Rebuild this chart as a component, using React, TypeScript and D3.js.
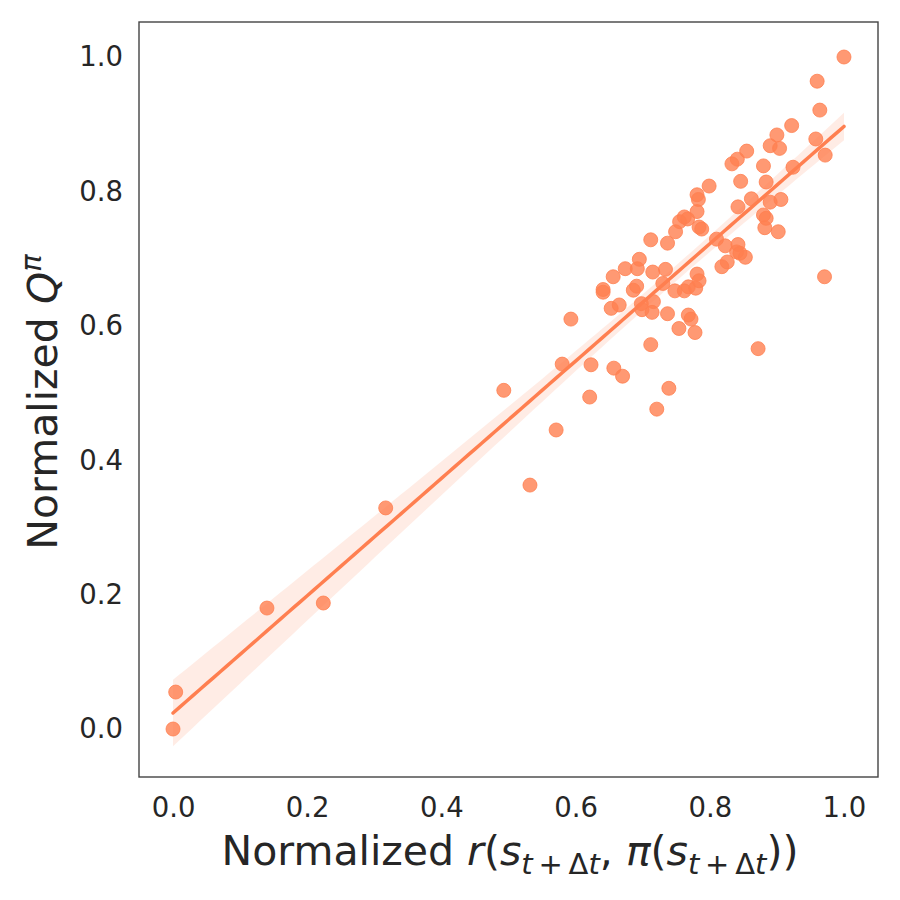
import { useEffect, useRef } from "react";
import * as d3 from "d3";

// normalized reward (x) and normalized Q (y)
const rewardValues = [
  0.0, 0.004, 0.14, 0.224, 0.317, 0.493, 0.532, 0.571, 0.58, 0.593, 0.621, 0.623,
  0.641, 0.641, 0.653, 0.656, 0.657, 0.665, 0.67, 0.674, 0.686, 0.691, 0.692, 0.695,
  0.698, 0.699, 0.712, 0.712, 0.714, 0.715, 0.716, 0.721, 0.73, 0.734, 0.737, 0.737,
  0.739, 0.748, 0.749, 0.754, 0.755, 0.762, 0.762, 0.767, 0.768, 0.768, 0.772, 0.778,
  0.779, 0.781, 0.781, 0.781, 0.783, 0.784, 0.784, 0.788, 0.799, 0.81, 0.818, 0.823,
  0.826, 0.833, 0.84, 0.841, 0.842, 0.842, 0.845, 0.846, 0.853, 0.855, 0.862, 0.872,
  0.88, 0.88, 0.882, 0.884, 0.884, 0.89, 0.89, 0.9, 0.902, 0.904, 0.906, 0.922, 0.924,
  0.958, 0.96, 0.964, 0.971, 0.972, 1.0,
];
const qValues = [
  0.0, 0.055, 0.18, 0.1875, 0.329, 0.504, 0.363, 0.445, 0.543, 0.61, 0.494, 0.542,
  0.654, 0.65, 0.626, 0.673, 0.537, 0.631, 0.525, 0.685, 0.653, 0.659, 0.685, 0.699,
  0.633, 0.624, 0.728, 0.572, 0.62, 0.68, 0.636, 0.476, 0.663, 0.684, 0.723, 0.618,
  0.507, 0.652, 0.74, 0.596, 0.755, 0.762, 0.652, 0.759, 0.658, 0.616, 0.61, 0.59,
  0.656, 0.795, 0.77, 0.677, 0.788, 0.747, 0.667, 0.744, 0.808, 0.729, 0.688, 0.719,
  0.695, 0.841, 0.71, 0.848, 0.721, 0.777, 0.708, 0.815, 0.702, 0.86, 0.789, 0.566,
  0.838, 0.765, 0.746, 0.814, 0.76, 0.868, 0.784, 0.884, 0.74, 0.864, 0.788, 0.898,
  0.836, 0.878, 0.964, 0.921, 0.673, 0.854, 1.0,
];
const xTicks = [0.0, 0.2, 0.4, 0.6, 0.8, 1.0];
const yTicks = [0.0, 0.2, 0.4, 0.6, 0.8, 1.0];

const COLOR = "#ff7f50";
const TEXT = "#262626";

export default function App() {
  const gRef = useRef<SVGGElement>(null);

  const width = 900;
  const height = 900;
  const margin = { left: 139, right: 22, top: 22, bottom: 123 };

  const x = d3
    .scaleLinear()
    .domain([-0.0507, 1.0507])
    .range([margin.left, width - margin.right]);
  const y = d3
    .scaleLinear()
    .domain([-0.0714, 1.0521])
    .range([height - margin.bottom, margin.top]);

  useEffect(() => {
    const root = d3.select(gRef.current);
    root.selectAll("*").remove();

    const pts = rewardValues.map((r, i) => ({ r, q: qValues[i] }));

    // least squares fit and confidence band
    const n = pts.length;
    const mx = d3.mean(pts, (d) => d.r)!;
    const my = d3.mean(pts, (d) => d.q)!;
    const sxx = d3.sum(pts, (d) => (d.r - mx) ** 2);
    const sxy = d3.sum(pts, (d) => (d.r - mx) * (d.q - my));
    const slope = sxy / sxx;
    const icpt = my - slope * mx;
    const sse = d3.sum(pts, (d) => (d.q - (icpt + slope * d.r)) ** 2);
    const s = Math.sqrt(sse / (n - 2));
    const [xmin, xmax] = d3.extent(pts, (d) => d.r) as [number, number];
    const grid = d3.range(0, 101).map((i) => xmin + ((xmax - xmin) * i) / 100);
    const band = grid.map((g) => {
      const fit = icpt + slope * g;
      const se = 1.6 * s * Math.sqrt(1 / n + (g - mx) ** 2 / sxx);
      return { g, fit, lo: fit - se, hi: fit + se };
    });

    root
      .append("path")
      .datum(band)
      .attr("fill", COLOR)
      .attr("fill-opacity", 0.15)
      .attr(
        "d",
        d3
          .area<(typeof band)[number]>()
          .x((d) => x(d.g))
          .y0((d) => y(d.lo))
          .y1((d) => y(d.hi)),
      );

    root
      .selectAll("circle")
      .data(pts)
      .enter()
      .append("circle")
      .attr("cx", (d) => x(d.r))
      .attr("cy", (d) => y(d.q))
      .attr("r", 7)
      .attr("fill", COLOR)
      .attr("fill-opacity", 0.8)
      .attr("stroke", COLOR)
      .attr("stroke-opacity", 0.8)
      .attr("stroke-width", 1);

    root
      .append("path")
      .datum(band)
      .attr("fill", "none")
      .attr("stroke", COLOR)
      .attr("stroke-width", 3.5)
      .attr("stroke-linecap", "round")
      .attr(
        "d",
        d3
          .line<(typeof band)[number]>()
          .x((d) => x(d.g))
          .y((d) => y(d.fit)),
      );

    // frame
    root
      .append("rect")
      .attr("x", margin.left)
      .attr("y", margin.top)
      .attr("width", width - margin.left - margin.right)
      .attr("height", height - margin.top - margin.bottom)
      .attr("fill", "none")
      .attr("stroke", "#444")
      .attr("stroke-width", 1.4);

    const xAxis = d3
      .axisBottom(x)
      .tickValues(xTicks)
      .tickFormat(d3.format(".1f"))
      .tickSize(0)
      .tickPadding(20);
    const gx = root
      .append("g")
      .attr("transform", `translate(0,${height - margin.bottom})`)
      .call(xAxis);
    gx.select(".domain").remove();
    gx.selectAll("text")
      .attr("font-family", "DejaVu Sans")
      .attr("font-size", 27.5)
      .attr("fill", TEXT);

    const yAxis = d3
      .axisLeft(y)
      .tickValues(yTicks)
      .tickFormat(d3.format(".1f"))
      .tickSize(0)
      .tickPadding(16);
    const gy = root.append("g").attr("transform", `translate(${margin.left},0)`).call(yAxis);
    gy.select(".domain").remove();
    gy.selectAll("text")
      .attr("font-family", "DejaVu Sans")
      .attr("font-size", 27.5)
      .attr("fill", TEXT);
  }, []);

  const sub = (
    <>
      <tspan fontStyle="italic">t</tspan>
      <tspan>{"\u2009+\u2009Δ"}</tspan>
      <tspan fontStyle="italic">t</tspan>
    </>
  );

  return (
    <svg
      width={width}
      height={height}
      style={{ display: "block", position: "absolute", left: 0, top: 0, background: "white" }}
    >
      <g ref={gRef} />
      <text
        x={510}
        y={865}
        textAnchor="middle"
        fontFamily="DejaVu Sans"
        fontSize={41}
        fill={TEXT}
      >
        Normalized <tspan fontStyle="italic">r</tspan>(<tspan fontStyle="italic">s</tspan>
        <tspan dy={9} fontSize={29}>
          {sub}
        </tspan>
        <tspan dy={-9}>, </tspan>
        <tspan fontStyle="italic">π</tspan>(<tspan fontStyle="italic">s</tspan>
        <tspan dy={9} fontSize={29}>
          {sub}
        </tspan>
        <tspan dy={-9}>))</tspan>
      </text>
      <text
        transform="translate(57,402) rotate(-90)"
        textAnchor="middle"
        fontFamily="DejaVu Sans"
        fontSize={41}
        fill={TEXT}
      >
        Normalized <tspan fontStyle="italic">Q</tspan>
        <tspan dy={-16} fontSize={29} fontStyle="italic">
          π
        </tspan>
      </text>
    </svg>
  );
}
